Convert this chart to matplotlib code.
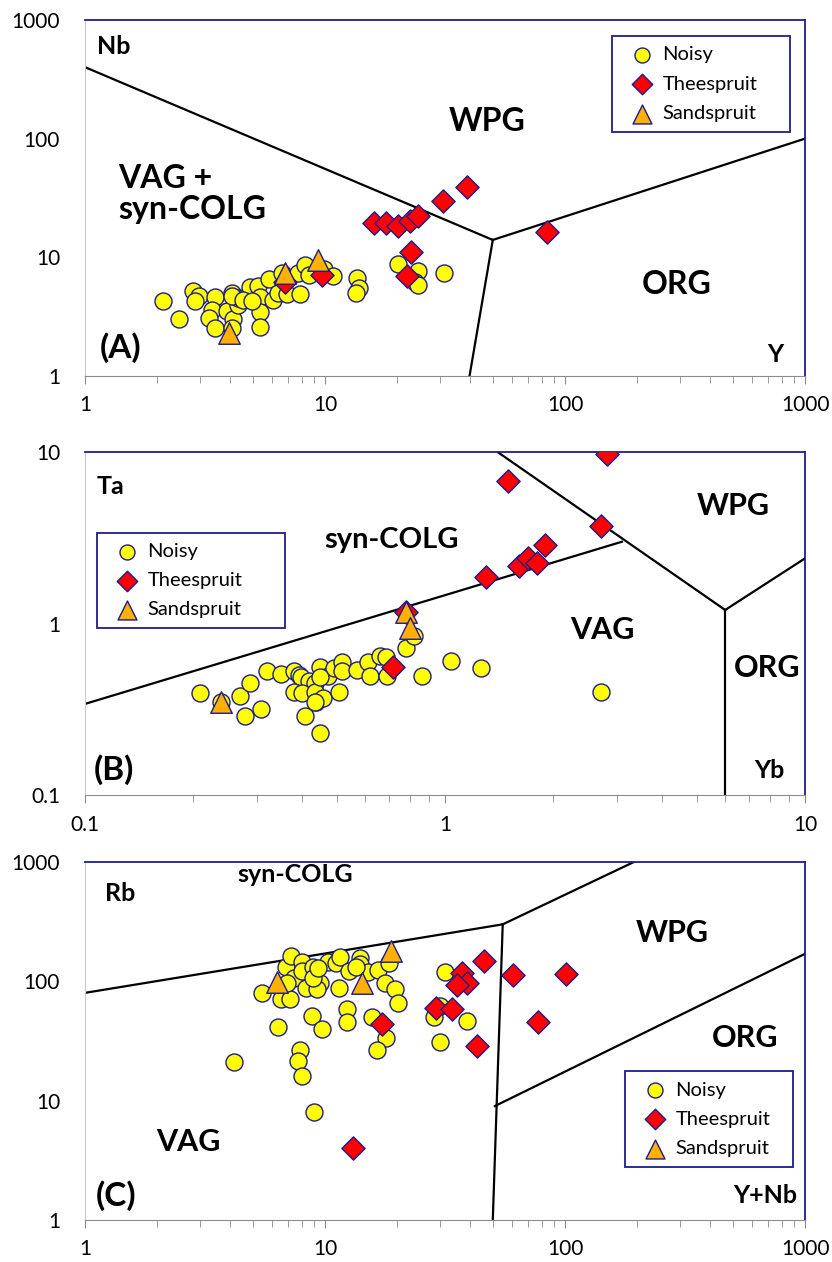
import numpy as np
import matplotlib
matplotlib.use('Agg')
import matplotlib.pyplot as plt
from matplotlib.ticker import FixedLocator, LogLocator, FuncFormatter, NullFormatter

plt.rcParams['font.family'] = ['Lato', 'DejaVu Sans']

NAVY = '#1c1c8c'
YELLOW = '#ffff00'
RED = '#ff0000'
ORANGE = '#ffb000'

# ---- Panel A : Nb vs Y ----
a_noisy_x = [2.12, 2.46, 2.83, 2.99, 2.87, 3.48, 3.37, 3.29, 3.48, 4.08, 3.89, 4.12, 4.08,
             4.35, 4.35, 4.79, 4.87, 5.27, 5.36, 5.36, 5.36, 5.86, 6.09, 6.39, 6.60, 6.92,
             7.87, 7.74, 8.25, 8.58, 9.94, 10.8, 13.6, 13.8, 13.4, 20.1, 24.3, 23.7, 24.3,
             31.4, 4.10, 4.55, 4.95]
a_noisy_y = [4.32, 3.03, 5.24, 4.76, 4.32, 4.61, 3.61, 3.10, 2.56, 4.99, 3.56, 3.01, 2.53,
             3.97, 4.55, 4.82, 5.66, 5.74, 4.67, 3.45, 2.61, 6.53, 4.38, 4.99, 7.43, 4.92,
             4.92, 7.35, 8.63, 7.11, 7.94, 7.01, 6.67, 5.49, 4.99, 8.75, 7.68, 6.24, 5.85,
             7.35, 4.70, 4.40, 4.30]
a_thee_x = [16.0, 17.9, 20.1, 22.5, 24.3, 30.9, 38.9, 22.8, 21.9, 84.1, 6.81, 9.69]
a_thee_y = [19.6, 19.6, 18.4, 20.4, 22.3, 30.0, 38.8, 11.0, 6.97, 16.3, 6.2, 7.1]
a_sand_x = [3.98, 6.81, 9.32]
a_sand_y = [2.30, 7.4, 9.5]

# ---- Panel B : Ta vs Yb ----
b_noisy_x = [0.208, 0.239, 0.269, 0.288, 0.278, 0.308, 0.320, 0.350, 0.380, 0.392, 0.398,
             0.419, 0.436, 0.380, 0.400, 0.436, 0.437, 0.459, 0.408, 0.450, 0.450, 0.472,
             0.490, 0.519, 0.519, 0.508, 0.570, 0.610, 0.619, 0.659, 0.689, 0.778, 0.822,
             0.861, 1.04, 1.26, 2.72, 0.686, 0.450, 0.436]
b_noisy_y = [0.392, 0.350, 0.378, 0.448, 0.290, 0.317, 0.531, 0.508, 0.531, 0.501, 0.486,
             0.464, 0.452, 0.400, 0.395, 0.400, 0.347, 0.366, 0.289, 0.229, 0.560, 0.494,
             0.548, 0.598, 0.531, 0.400, 0.535, 0.598, 0.494, 0.646, 0.494, 0.722, 0.849,
             0.494, 0.607, 0.548, 0.400, 0.640, 0.490, 0.350]
b_thee_x = [1.50, 2.81, 2.71, 1.30, 1.60, 1.70, 1.80, 1.90, 0.718, 0.78]
b_thee_y = [6.80, 9.8, 3.70, 1.87, 2.17, 2.40, 2.24, 2.87, 0.560, 1.16]
b_sand_x = [0.239, 0.778, 0.80]
b_sand_y = [0.35, 1.17, 0.94]

# ---- Panel C : Rb vs Y+Nb ----
c_noisy_x = [4.18, 6.35, 5.48, 6.56, 7.15, 6.86, 7.22, 7.43, 8.00, 8.04, 8.33, 8.94, 9.53,
             9.23, 10.3, 11.1, 11.5, 11.4, 12.6, 14.0, 14.0, 15.1, 16.7, 17.7, 18.4, 19.6,
             20.1, 8.85, 9.74, 12.4, 12.3, 15.7, 17.9, 16.5, 7.87, 7.74, 8.00, 9.03, 31.6,
             30.1, 28.5, 38.9, 30.1, 6.93, 8.94, 9.37, 13.5]
c_noisy_y = [20.9, 41.6, 80.2, 71.1, 71.1, 132, 163, 106, 146, 122, 87.4, 132, 96.2,
             85.7, 146, 143, 159, 87.4, 123, 156, 140, 120, 124, 96.2, 142, 85.7,
             65.4, 51.2, 39.6, 58.6, 45.3, 50.5, 33.3, 26.5, 26.5, 21.6, 16.1, 8.07, 119,
             62.1, 49.9, 46.7, 30.8, 96, 106, 128, 132]
c_thee_x = [17.2, 13.1, 46.0, 37.3, 38.9, 35.6, 60.9, 101, 29.0, 33.9, 76.9, 42.9]
c_thee_y = [43.6, 3.98, 149, 118, 97.3, 93.1, 113, 115, 59.4, 58.2, 45.8, 28.8]
c_sand_x = [6.29, 14.3, 18.8]
c_sand_y = [99.3, 96.2, 181]

# discrimination boundaries (Pearce et al.)
a_lines = [([1, 50], [400, 14]), ([50, 40], [14, 1]), ([50, 1000], [14, 100])]
b_lines = [([0.1, 3.1], [0.34, 3.0]), ([1.4, 6.0], [10, 1.2]), ([6.0, 6.0], [1.2, 0.1]),
           ([6.0, 10], [1.2, 2.4])]
c_lines = [([1, 55], [80, 300]), ([55, 400], [300, 2000]), ([55, 50], [300, 1]),
           ([51, 1000], [9, 170])]

fig = plt.figure(figsize=(8.32, 12.62), dpi=100)
ax_a = fig.add_axes([0.1022, 0.7021, 0.8654, 0.2821])
ax_b = fig.add_axes([0.1022, 0.3700, 0.8654, 0.2718])
ax_c = fig.add_axes([0.1022, 0.0333, 0.8654, 0.2837])


def setup(ax, xlim, ylim):
    ax.set_xscale('log')
    ax.set_yscale('log')
    ax.set_xlim(*xlim)
    ax.set_ylim(*ylim)
    fmt = FuncFormatter(lambda v, p: '%g' % v)
    ax.xaxis.set_major_formatter(fmt)
    ax.yaxis.set_major_formatter(fmt)
    ax.xaxis.set_minor_locator(LogLocator(base=10, subs=np.arange(2, 10)))
    ax.xaxis.set_minor_formatter(NullFormatter())
    ax.yaxis.set_minor_locator(FixedLocator([]))
    for s in ['top', 'right']:
        ax.spines[s].set_color(NAVY)
        ax.spines[s].set_linewidth(1.3)
    ax.spines['left'].set_color('#c8c8dc')
    ax.spines['bottom'].set_color('#8c8c8c')
    ax.tick_params(axis='x', which='major', length=6, color='#8c8c8c', labelsize=15, pad=8)
    ax.tick_params(axis='x', which='minor', length=5, color='#8c8c8c')
    ax.tick_params(axis='y', which='major', length=0, labelsize=15, pad=18)


def draw(ax, lines, nx, ny, tx, ty, sx, sy):
    for lx, ly in lines:
        ax.plot(lx, ly, color='black', lw=1.6, zorder=2)
    ax.scatter(nx, ny, s=150, marker='o', facecolor=YELLOW, edgecolor=NAVY, linewidth=1.0,
               zorder=3, label='Noisy')
    ax.scatter(tx, ty, s=140, marker='D', facecolor=RED, edgecolor=NAVY, linewidth=1.0,
               zorder=4, label='Theespruit')
    ax.scatter(sx, sy, s=240, marker='^', facecolor=ORANGE, edgecolor=NAVY, linewidth=1.0,
               zorder=5, label='Sandspruit')


def legend(ax, x, y, w):
    lg = ax.legend(loc='upper left', bbox_to_anchor=(x, y, w, 0.01), mode='expand',
                   fancybox=False, framealpha=1, edgecolor=NAVY, fontsize=14.5,
                   handletextpad=0.0, borderpad=0.5, labelspacing=0.6,
                   markerscale=0.88, handlelength=2.0, borderaxespad=0)
    lg.get_frame().set_linewidth(1.3)


def label(ax, x, y, s, size=22, ha='center'):
    ax.text(x, y, s, transform=ax.transAxes, fontsize=size, fontweight='bold',
            ha=ha, va='center', zorder=6)


# Panel A
setup(ax_a, (1, 1000), (1, 1000))
draw(ax_a, a_lines, a_noisy_x, a_noisy_y, a_thee_x, a_thee_y, a_sand_x, a_sand_y)
legend(ax_a, 0.732, 0.944, 0.247)
label(ax_a, 0.017, 0.924, 'Nb', 18, 'left')
label(ax_a, 0.558, 0.716, 'WPG', 23)
ax_a.text(0.046, 0.511, 'VAG +\nsyn-COLG', transform=ax_a.transAxes, fontsize=23,
          fontweight='bold', ha='left', va='center', linespacing=1.1)
label(ax_a, 0.822, 0.256, 'ORG', 23)
label(ax_a, 0.020, 0.079, '(A)', 24, 'left')
label(ax_a, 0.958, 0.059, 'Y', 18)

# Panel B
setup(ax_b, (0.1, 10), (0.1, 10))
draw(ax_b, b_lines, b_noisy_x, b_noisy_y, b_thee_x, b_thee_y, b_sand_x, b_sand_y)
legend(ax_b, 0.017, 0.755, 0.261)
label(ax_b, 0.035, 0.901, 'Ta', 18)
label(ax_b, 0.426, 0.743, 'syn-COLG', 21)
label(ax_b, 0.900, 0.843, 'WPG')
label(ax_b, 0.719, 0.481, 'VAG')
label(ax_b, 0.947, 0.370, 'ORG')
label(ax_b, 0.012, 0.073, '(B)', 24, 'left')
label(ax_b, 0.951, 0.073, 'Yb', 18)

# Panel C
setup(ax_c, (1, 1000), (1, 1000))
draw(ax_c, c_lines, c_noisy_x, c_noisy_y, c_thee_x, c_thee_y, c_sand_x, c_sand_y)
legend(ax_c, 0.75, 0.405, 0.233)
label(ax_c, 0.049, 0.913, 'Rb', 18)
label(ax_c, 0.292, 0.964, 'syn-COLG', 18)
label(ax_c, 0.815, 0.802, 'WPG')
label(ax_c, 0.917, 0.508, 'ORG')
label(ax_c, 0.143, 0.218, 'VAG')
label(ax_c, 0.015, 0.067, '(C)', 24, 'left')
label(ax_c, 0.944, 0.067, 'Y+Nb', 18)

fig.savefig('out.png', dpi=100)
